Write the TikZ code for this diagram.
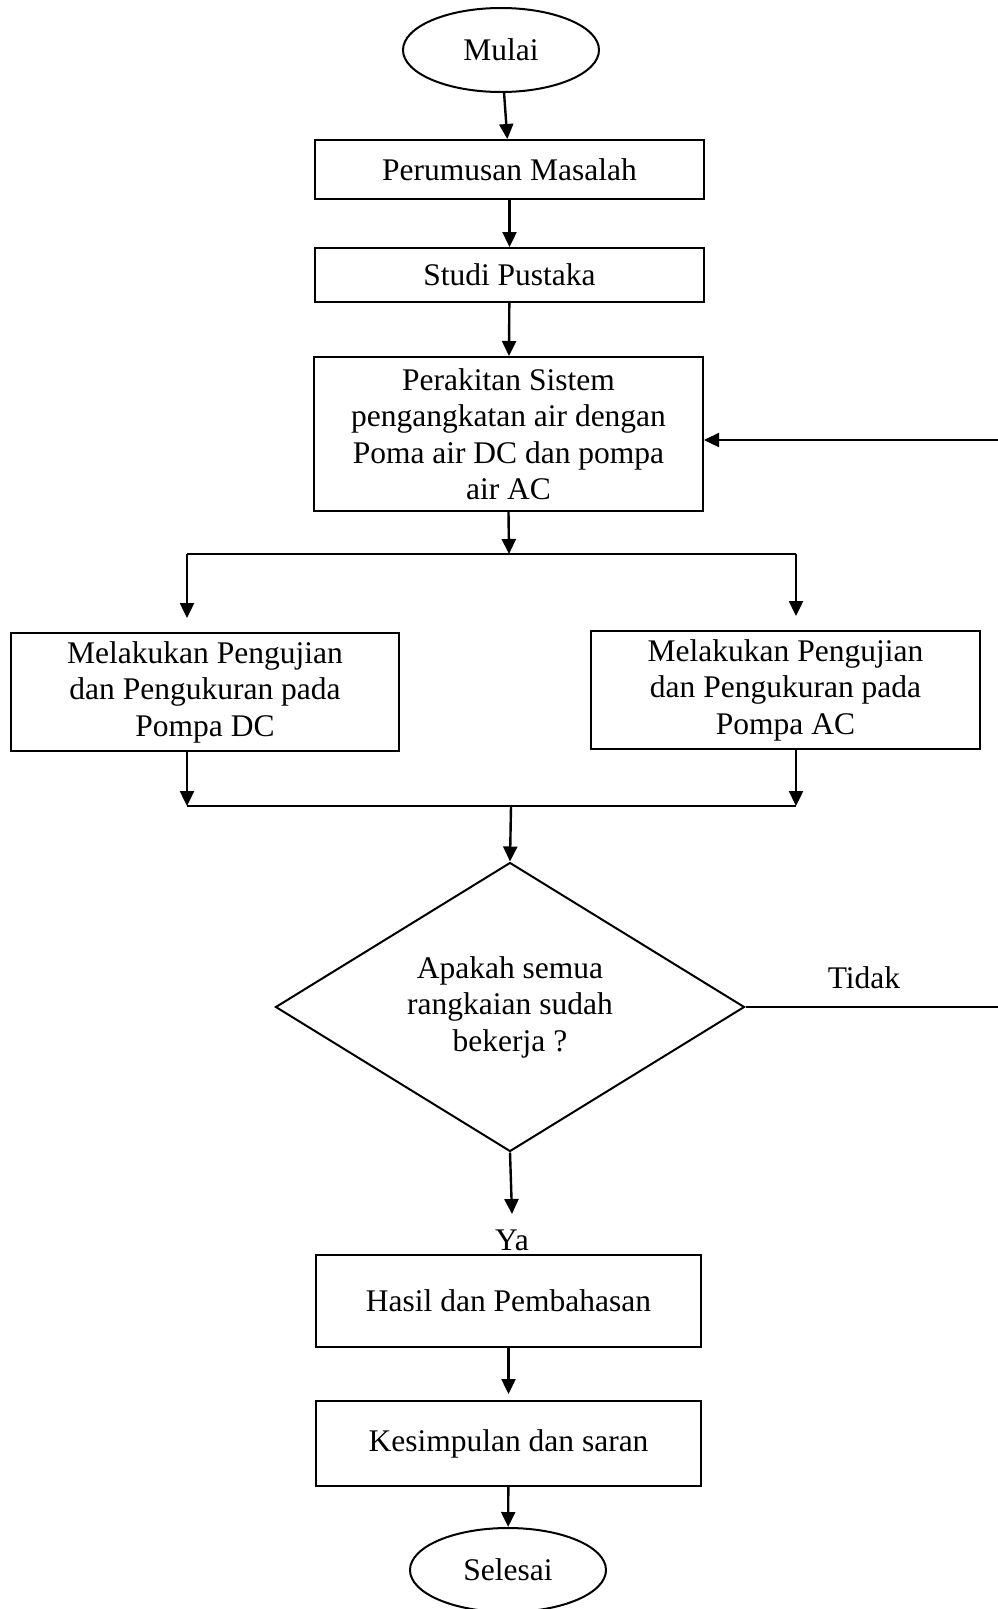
\documentclass[tikz,border=0pt]{standalone}
\usepackage{fontspec}
\setmainfont{Liberation Serif}
\usepackage{tikz}
\usetikzlibrary{shapes.geometric, arrows.meta}
\tikzstyle{arrow} = [line width=2.4pt,-{Triangle[width=14pt,length=15pt]}]
\tikzstyle{garis} = [line width=2.4pt]
\tikzstyle{startstop} = [ellipse, draw, line width=2pt, minimum width=196pt, minimum height=84pt, inner sep=0pt]
\tikzstyle{process} = [rectangle, draw, line width=2pt, align=center, inner sep=0pt]
\tikzstyle{decision} = [diamond, draw, line width=2pt, aspect=1.62, align=center, inner sep=0pt, minimum width=469pt, minimum height=289pt]

\begin{document}
\begin{tikzpicture}[x=1pt,y=-1pt,font=\fontsize{31.5}{36.5}\selectfont]
  \useasboundingbox (0,0) rectangle (998,1609);

  % Mulai dan tahap awal
  \node[startstop] (mulai) at (501,50) {Mulai};
  \node[process, minimum width=389pt, minimum height=59pt] (rumus) at (509.5,169.5) {Perumusan Masalah};
  \node[process, minimum width=389pt, minimum height=54pt] (studi) at (509.5,275) {Studi Pustaka};
  \node[process, minimum width=389pt, minimum height=154pt] (rakit) at (508.5,434)
    {Perakitan Sistem\\pengangkatan air dengan\\Poma air DC dan pompa\\air AC};

  % Pengujian dua pompa
  \node[process, minimum width=388pt, minimum height=118pt] (ujidc) at (205,692)
    {Melakukan Pengujian\\dan Pengukuran pada\\Pompa DC};
  \node[process, minimum width=389pt, minimum height=118pt] (ujiac) at (785.5,690)
    {Melakukan Pengujian\\dan Pengukuran pada\\Pompa AC};

  % Keputusan
  \node[decision] (cek) at (510,1007) {Apakah semua\\rangkaian sudah\\bekerja ?};
  \node (tidak) at (864,978) {Tidak};
  \node (ya) at (512,1240) {Ya};

  % Tahap akhir
  \node[process, minimum width=385pt, minimum height=92pt] (hasil) at (508.5,1301) {Hasil dan Pembahasan};
  \node[process, minimum width=385pt, minimum height=85pt] (simpul) at (508.5,1443.5) {Kesimpulan dan saran};
  \node[startstop] (selesai) at (508,1570) {Selesai};

  % Titik cabang
  \coordinate (pisah) at (509,554);
  \coordinate (pisahL) at (187,554);
  \coordinate (pisahR) at (796,554);
  \coordinate (gabung) at (511,806);
  \coordinate (gabungL) at (187,806);
  \coordinate (gabungR) at (796,806);

  % Panah utama
  \draw[arrow] (mulai) -- (rumus);
  \draw[arrow] (rumus) -- (studi);
  \draw[arrow] (studi) -- (rakit);
  \draw[arrow] (rakit.south) -- (pisah);
  \draw[garis] (pisahL) -- (pisahR);
  \draw[arrow, shorten >=14pt] (pisahL) -- (pisahL |- ujidc.north);
  \draw[arrow, shorten >=14pt] (pisahR) -- (pisahR |- ujiac.north);
  \draw[arrow] (gabungL |- ujidc.south) -- (gabungL);
  \draw[arrow] (gabungR |- ujiac.south) -- (gabungR);
  \draw[garis] (gabungL) -- (gabungR);
  \draw[arrow] (gabung) -- (cek.north);
  \draw[arrow] (cek.south) -- ([yshift=12pt]ya.north);
  \draw[arrow, shorten >=6pt] (hasil) -- (simpul);
  \draw[arrow] (simpul) -- (selesai);

  % Umpan balik jika tidak
  \draw[arrow] (cek.east) -- (1012,1007) |- ([yshift=-6pt]rakit.east);
\end{tikzpicture}
\end{document}
